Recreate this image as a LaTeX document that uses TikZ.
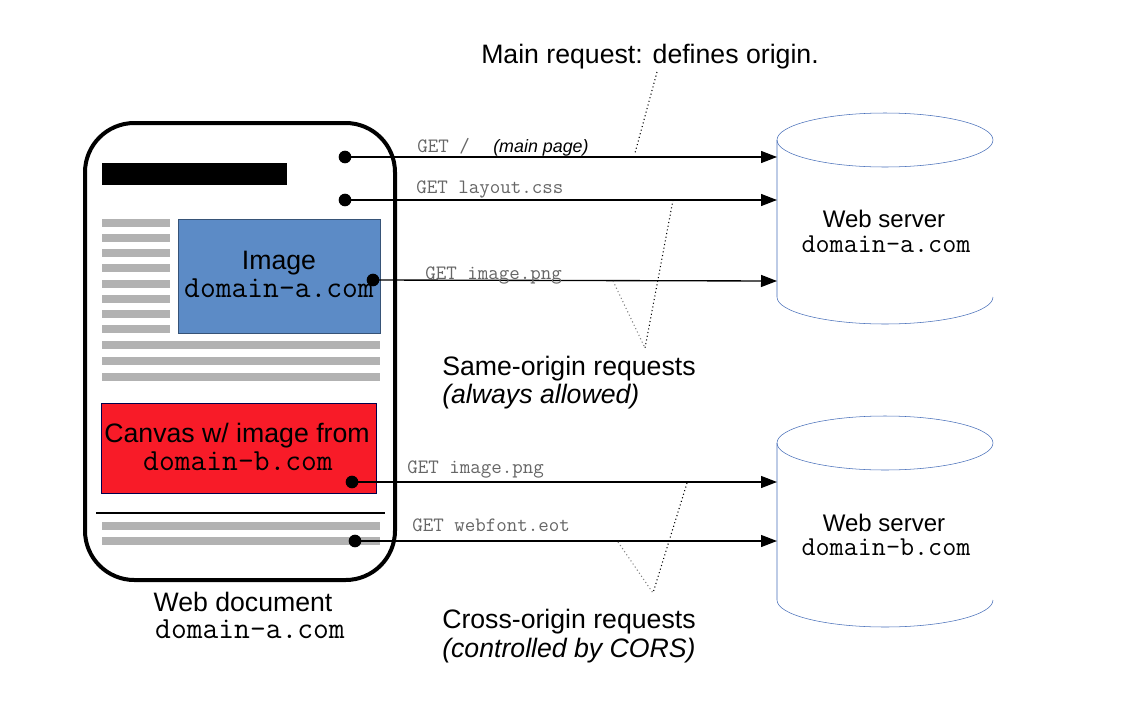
\documentclass[tikz,border=0pt]{standalone}
\usepackage{fontspec}
\setmainfont{Liberation Sans}
\usepackage{xcolor}
\usetikzlibrary{arrows.meta}

\definecolor{imgblue}{RGB}{92,139,198}
\definecolor{canvasred}{RGB}{248,27,40}
\definecolor{docgray}{RGB}{178,178,178}
\definecolor{srvblue}{RGB}{70,110,185}

\begin{document}
\begin{tikzpicture}[x=0.75pt,y=-0.75pt,
        lbl/.style={font=\fontsize{20}{24}\selectfont,inner sep=0pt},
        lblit/.style={font=\itshape\fontsize{20}{24}\selectfont,inner sep=0pt},
        srv/.style={font=\fontsize{18}{22}\selectfont,inner sep=0pt,anchor=base},
        dom/.style={font=\ttfamily\fontsize{23}{26}\selectfont,inner sep=0pt,anchor=base},
        srvdom/.style={font=\ttfamily\fontsize{20.5}{24}\selectfont,inner sep=0pt,anchor=base},
        get/.style={font=\ttfamily\fontsize{15.3}{18}\selectfont,text=black!60,anchor=base west,inner sep=0pt},
        dot/.style={circle,fill=black,inner sep=0pt,minimum size=9.5pt},
        req/.style={-{Triangle[length=12pt,width=9pt]},line width=1pt},
        hint/.style={dotted,line width=0.8pt}]
        % \draw[help lines] grid(1133,722);
        \path[fill=white] (0,0) rectangle (1133,722);

        % web document
        \draw[line width=3pt,rounded corners=37pt] (85,123) rectangle (395,580);
        \fill (102,163) rectangle (287,185);
        \fill[docgray] (102,219) rectangle ++(68,8);
        \fill[docgray] (102,234) rectangle ++(68,8);
        \fill[docgray] (102,249) rectangle ++(68,8);
        \fill[docgray] (102,264) rectangle ++(68,8);
        \fill[docgray] (102,280) rectangle ++(68,8);
        \fill[docgray] (102,295) rectangle ++(68,8);
        \fill[docgray] (102,310) rectangle ++(68,8);
        \fill[docgray] (102,325) rectangle ++(68,8);
        \fill[docgray] (102,341) rectangle ++(278,8);
        \fill[docgray] (102,357) rectangle ++(278,8);
        \fill[docgray] (102,373) rectangle ++(278,8);
        \draw[draw=imgblue!60!black,fill=imgblue] (178,219) rectangle (380,333);
        \draw[draw=blue!30!black,fill=canvasred] (101,403) rectangle (376,493);
        \draw[line width=0.8pt] (96,513) -- (385,513);
        \fill[docgray] (102,522) rectangle ++(278,8);
        \fill[docgray] (102,537) rectangle ++(278,8);

        \node[lbl,anchor=base] (imgname) at (279,269) {Image};
        \node[dom] (imgdom) at (279,297) {domain-a.com};
        \node[lbl,anchor=base] (canvasname) at (237,442) {Canvas w/ image from};
        \node[dom] (canvasdom) at (238,470) {domain-b.com};
        \node[lbl,anchor=base] (docname) at (243,611) {Web document};
        \node[dom] (docdom) at (250,638) {domain-a.com};

        % servers
        \draw[srvblue] (885,140) ellipse [x radius=81pt,y radius=20.25pt];
        \draw[srvblue] (993,297) arc[start angle=0,end angle=180,x radius=81pt,y radius=-20.25pt] -- (777,140);
        \draw[srvblue] (885,443) ellipse [x radius=81pt,y radius=20.25pt];
        \draw[srvblue] (993,600) arc[start angle=0,end angle=180,x radius=81pt,y radius=-20.25pt] -- (777,443);
        \node[srv] (srvaname) at (884,227) {Web server};
        \node[srvdom] (srvadom) at (886,252) {domain-a.com};
        \node[srv] (srvbname) at (884,531) {Web server};
        \node[srvdom] (srvbdom) at (886,555) {domain-b.com};

        % requests
        \node[dot] (main) at (345,157) {};
        \node[dot] (css) at (345,200) {};
        \node[dot] (img) at (373,280) {};
        \node[dot] (canvas) at (352,482) {};
        \node[dot] (font) at (355,541) {};
        \coordinate (amain) at (777,157);
        \coordinate (acss) at (777,200);
        \coordinate (aimg) at (777,281);
        \coordinate (bimg) at (777,482);
        \coordinate (bfont) at (777,541);
        \draw[req] (main.center) -- (amain);
        \draw[req] (css.center) -- (acss);
        \draw[req] (img.center) -- (aimg);
        \draw[req] (canvas.center) -- (bimg);
        \draw[req] (font.center) -- (bfont);

        \node[get] (getmain) at (417,152) {GET /};
        \node[anchor=base west,inner sep=0pt,font=\itshape\fontsize{13.4}{16}\selectfont] (getmainnote) at (493,152) {(main page)};
        \node[get] (getcss) at (416,193) {GET layout.css};
        \node[get] (getimg) at (425,279) {GET image.png};
        \node[get] (getcanvas) at (407,473) {GET image.png};
        \node[get] (getfont) at (412,531) {GET webfont.eot};

        % notes
        \node[lbl,anchor=base] (mainreq) at (650,63) {Main request: defines origin.};
        \node[lbl,anchor=base west] (same) at (442,375) {Same-origin requests};
        \node[lblit,anchor=base west] (samenote) at (442,403) {(always allowed)};
        \node[lbl,anchor=base west] (cross) at (442,628) {Cross-origin requests};
        \node[lblit,anchor=base west] (crossnote) at (442,657) {(controlled by CORS)};

        \coordinate (mainfoot) at (657,72);
        \coordinate (mainhit) at (635,153);
        \coordinate (sameapex) at (645,348);
        \coordinate (samecss) at (673,200);
        \coordinate (sameimg) at (613,281);
        \coordinate (crossapex) at (653,593);
        \coordinate (crossimg) at (687,483);
        \coordinate (crossfont) at (618,542);
        \draw[hint] (mainfoot) -- (mainhit);
        \draw[hint] (samecss) -- (sameapex);
        \draw[hint,gray] (sameimg) -- (sameapex);
        \draw[hint] (crossimg) -- (crossapex);
        \draw[hint,gray] (crossfont) -- (crossapex);
    \end{tikzpicture}
\end{document}
